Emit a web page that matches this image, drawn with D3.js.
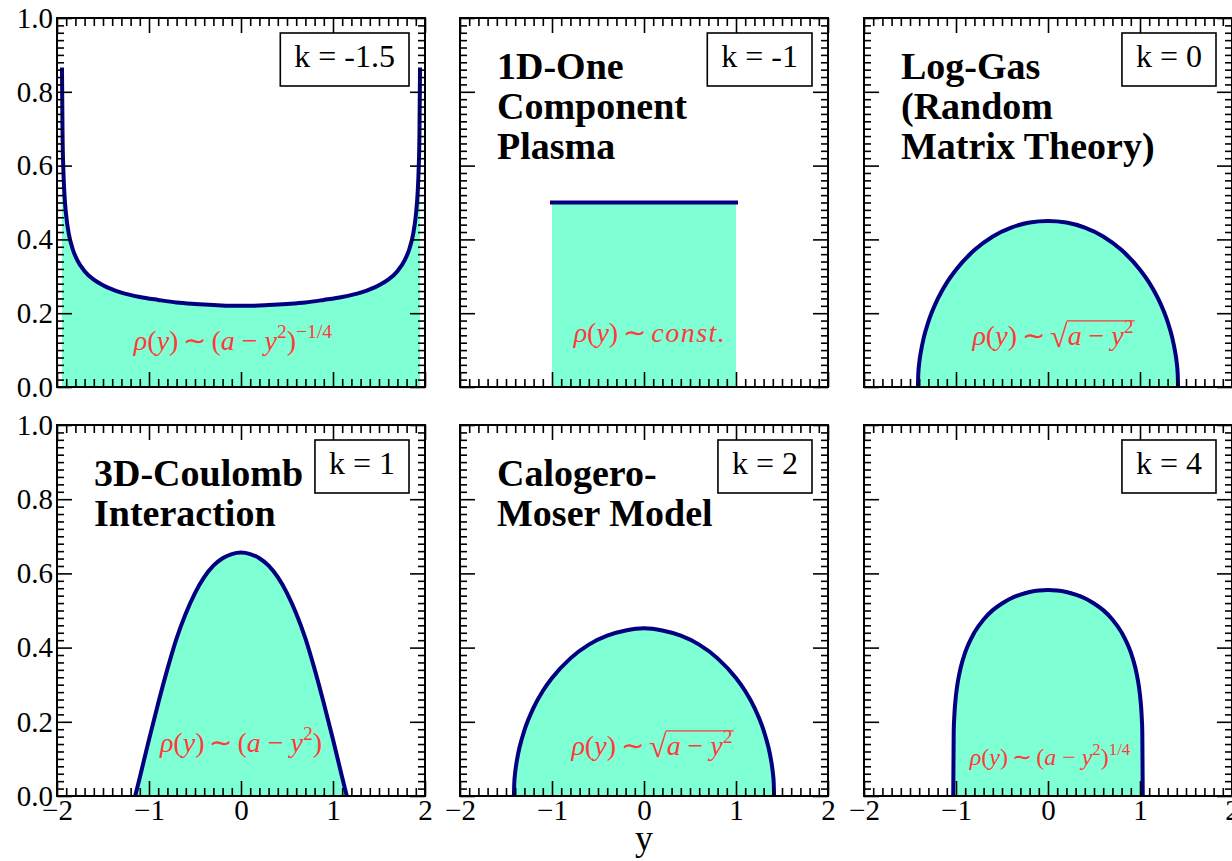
<!DOCTYPE html>
<html><head><meta charset="utf-8">
<script src="https://cdn.jsdelivr.net/npm/d3@7"></script>
<style>body{margin:0;background:#fff} svg{display:block}</style>
</head><body><svg id="c" width="1232" height="861"></svg>
<script>
// ---------------- data ----------------
const kLabels = ["k = -1.5", "k = -1", "k = 0", "k = 1", "k = 2", "k = 4"];
const titles = [
  [],
  ["1D-One", "Component", "Plasma"],
  ["Log-Gas", "(Random", "Matrix Theory)"],
  ["3D-Coulomb", "Interaction"],
  ["Calogero-", "Moser Model"],
  []
];
const xTicks = [-2, -1, 0, 1, 2];
const yTicks = [0, 0.2, 0.4, 0.6, 0.8, 1.0];
const xAxisLabel = "y";

// k = -1.5
const yKm15 = [-1.946,-1.94,-1.93,-1.92,-1.9,-1.87,-1.83,-1.78,-1.7,-1.6,-1.5,-1.3,-1.1,-0.9,-0.7,-0.5,-0.3,-0.1,0,0.1,0.3,0.5,0.7,0.9,1.1,1.3,1.5,1.6,1.7,1.78,1.83,1.87,1.9,1.92,1.93,1.94,1.946];
const rhoKm15 = [0.866,0.692,0.582,0.526,0.464,0.413,0.374,0.344,0.314,0.291,0.276,0.256,0.244,0.236,0.229,0.225,0.222,0.220,0.220,0.220,0.222,0.225,0.229,0.236,0.244,0.256,0.276,0.291,0.314,0.344,0.374,0.413,0.464,0.526,0.582,0.692,0.866];
// k = -1
const yKm1 = [-1, 1];
const rhoKm1 = [0.5, 0.5];
// k = 0
const yK0 = [-1.414,-1.41,-1.40,-1.38,-1.35,-1.3,-1.2,-1.1,-1.0,-0.8,-0.6,-0.4,-0.2,0,0.2,0.4,0.6,0.8,1.0,1.1,1.2,1.3,1.35,1.38,1.40,1.41,1.414];
const rhoK0 = [0,0.035,0.064,0.098,0.134,0.177,0.238,0.283,0.318,0.371,0.408,0.432,0.446,0.450,0.446,0.432,0.408,0.371,0.318,0.283,0.238,0.177,0.134,0.098,0.064,0.035,0];
// k = 1
const yK1 = [-1.15,-1.1,-1.0,-0.9,-0.8,-0.7,-0.6,-0.5,-0.4,-0.3,-0.2,-0.1,0,0.1,0.2,0.3,0.4,0.5,0.6,0.7,0.8,0.9,1.0,1.1,1.15];
const rhoK1 = [0,0.05,0.152,0.25,0.342,0.425,0.492,0.547,0.59,0.621,0.641,0.652,0.656,0.652,0.641,0.621,0.59,0.547,0.492,0.425,0.342,0.25,0.152,0.05,0];
// k = 2
const yK2 = [-1.414,-1.41,-1.40,-1.38,-1.35,-1.3,-1.2,-1.1,-1.0,-0.8,-0.6,-0.4,-0.2,0,0.2,0.4,0.6,0.8,1.0,1.1,1.2,1.3,1.35,1.38,1.40,1.41,1.414];
const rhoK2 = [0,0.035,0.064,0.098,0.134,0.177,0.238,0.283,0.318,0.371,0.408,0.432,0.446,0.452,0.446,0.432,0.408,0.371,0.318,0.283,0.238,0.177,0.134,0.098,0.064,0.035,0];
// k = 4
const yK4 = [-1.03,-1.025,-1.02,-1.0,-0.98,-0.95,-0.9,-0.8,-0.7,-0.6,-0.5,-0.4,-0.3,-0.2,-0.1,0,0.1,0.2,0.3,0.4,0.5,0.6,0.7,0.8,0.9,0.95,0.98,1.0,1.02,1.025,1.03];
const rhoK4 = [0,0.174,0.207,0.272,0.308,0.345,0.387,0.441,0.476,0.501,0.519,0.533,0.543,0.550,0.554,0.555,0.554,0.550,0.543,0.533,0.519,0.501,0.476,0.441,0.387,0.345,0.308,0.272,0.207,0.174,0];

// formulas (segments of text)
const fPow = (p) => [{t:"ρ",it:1},{t:"("},{t:"y",it:1},{t:")"},{t:"∼",w:0.78,gl:0.2,gr:0.2},{t:"("},{t:"a",it:1},{t:"−",w:0.78,gl:0.14,gr:0.14},{t:"y",it:1},{t:"2",sup:1},{t:")"},{t:p,sup:1}];
const fSqrt = [{t:"ρ",it:1},{t:"("},{t:"y",it:1},{t:")"},{t:"∼",w:0.78,gl:0.2,gr:0.2},{t:"√",root:1},{t:"a",it:1},{t:"−",w:0.78,gl:0.14,gr:0.14},{t:"y",it:1},{t:"2",sup:1}];
const formulas = [
  fPow("−1/4"),
  [{t:"ρ",it:1},{t:"("},{t:"y",it:1},{t:")"},{t:"∼",w:0.78,gl:0.2,gr:0.2},{t:"const.",it:1,ls:1}],
  fSqrt,
  [{t:"ρ",it:1},{t:"("},{t:"y",it:1},{t:")"},{t:"∼",w:0.78,gl:0.2,gr:0.2},{t:"("},{t:"a",it:1},{t:"−",w:0.78,gl:0.14,gr:0.14},{t:"y",it:1},{t:"2",sup:1},{t:")"}],
  fSqrt,
  fPow("1/4")
];

const series = [[yKm15,rhoKm15],[yKm1,rhoKm1],[yK0,rhoK0],[yK1,rhoK1],[yK2,rhoK2],[yK4,rhoK4]];

// ---------------- layout ----------------
const colLeft = [57, 460, 864];
const PW = 368;
const rowTop = [18, 425];
const rowBot = [387, 796];
const fDx = [-8, 6, 5, 0, 8, 2];
const fBase = [332, 324, 327, 327, 330, 340];
const fSize = [28, 28, 28, 28, 28, 24];

const FILL = "#7fffd4", LINE = "#000080", RED = "#ff3a3a";
const SERIF = "'Liberation Serif', 'Times New Roman', serif";

const svg = d3.select("#c");

function drawFormula(g, segs, cx, baseY, fs) {
  const grp = g.append("g").attr("font-family", SERIF).attr("fill", RED);
  let xPos = 0, rootEnd = null, rootTop = null;
  segs.forEach(s => {
    const size = s.sup ? fs * 0.7 : (s.root ? fs * 1.15 : fs);
    const dy = s.sup ? -fs * 0.42 : (s.root ? fs * 0.06 : 0);
    xPos += (s.gl || 0) * fs;
    const t = grp.append("text").attr("x", xPos).attr("y", dy)
      .attr("font-size", size)
      .attr("font-style", s.it ? "italic" : "normal")
      .attr("letter-spacing", s.ls ? "1.5px" : null)
      .text(s.t);
    let w = t.node().getComputedTextLength();
    if (s.w) { const adv = s.w * fs; t.attr("x", xPos + (adv - w) / 2); w = adv; }
    xPos += w + (s.gr || 0) * fs;
    if (s.root) { rootEnd = xPos; rootTop = dy - size * 0.80; }
  });
  if (rootEnd !== null) {
    grp.append("line").attr("x1", rootEnd - 1).attr("x2", xPos + 1)
      .attr("y1", rootTop).attr("y2", rootTop)
      .attr("stroke", RED).attr("stroke-width", 1.4);
  }
  grp.attr("transform", `translate(${cx - xPos / 2},${baseY})`);
}

for (let p = 0; p < 6; p++) {
  const r = Math.floor(p / 3), c = p % 3;
  const left = colLeft[c], right = left + PW, top = rowTop[r], bot = rowBot[r];
  const x = d3.scaleLinear().domain([-2, 2]).range([left, right]);
  const y = d3.scaleLinear().domain([0, 1]).range([bot, top]);
  const g = svg.append("g");
  const data = series[p][0].map((v, i) => [v, series[p][1][i]]);
  const cv = p === 1 ? d3.curveLinear : d3.curveMonotoneX;

  g.append("path").datum(data)
    .attr("d", d3.area().x(d => x(d[0])).y0(y(0)).y1(d => y(d[1])).curve(cv))
    .attr("fill", FILL);
  g.append("path").datum(data)
    .attr("d", d3.line().x(d => x(d[0])).y(d => y(d[1])).curve(cv))
    .attr("fill", "none").attr("stroke", LINE).attr("stroke-width", 4)
    .attr("stroke-linecap", p === 1 ? "square" : "butt");

  // ticks
  const xMinor = d3.range(-20, 21).filter(i => i % 10 !== 0).map(i => i / 10);
  const yMinor = d3.range(0, 51).filter(i => i % 10 !== 0).map(i => i / 50);
  const styleAxis = (sel) => {
    sel.select(".domain").remove();
    sel.selectAll("line").attr("stroke", "#000").attr("stroke-width", 1.6);
    sel.attr("font-family", SERIF).attr("font-size", 29);
    sel.selectAll("text").attr("fill", "#000");
  };
  const showX = r === 1, showY = c === 0;
  g.append("g").attr("transform", `translate(0,${bot})`)
    .call(d3.axisBottom(x).tickValues(xTicks).tickSize(-15).tickPadding(3)
      .tickFormat(showX ? d3.format("d") : () => "")).call(styleAxis);
  g.append("g").attr("transform", `translate(0,${bot})`)
    .call(d3.axisBottom(x).tickValues(xMinor).tickSize(-8).tickFormat(() => "")).call(styleAxis);
  g.append("g").attr("transform", `translate(0,${top})`)
    .call(d3.axisTop(x).tickValues(xTicks).tickSize(-15).tickFormat(() => "")).call(styleAxis);
  g.append("g").attr("transform", `translate(0,${top})`)
    .call(d3.axisTop(x).tickValues(xMinor).tickSize(-8).tickFormat(() => "")).call(styleAxis);
  g.append("g").attr("transform", `translate(${left},0)`)
    .call(d3.axisLeft(y).tickValues(yTicks).tickSize(-15).tickPadding(4)
      .tickFormat(showY ? d3.format(".1f") : () => "")).call(styleAxis);
  g.append("g").attr("transform", `translate(${left},0)`)
    .call(d3.axisLeft(y).tickValues(yMinor).tickSize(-7).tickFormat(() => "")).call(styleAxis);
  g.append("g").attr("transform", `translate(${right},0)`)
    .call(d3.axisRight(y).tickValues(yTicks).tickSize(-15).tickFormat(() => "")).call(styleAxis);
  g.append("g").attr("transform", `translate(${right},0)`)
    .call(d3.axisRight(y).tickValues(yMinor).tickSize(-7).tickFormat(() => "")).call(styleAxis);

  // frame
  g.append("rect").attr("x", left).attr("y", top).attr("width", PW).attr("height", bot - top)
    .attr("fill", "none").attr("stroke", "#000").attr("stroke-width", 2);

  // titles
  titles[p].forEach((t, i) => {
    g.append("text").attr("x", left + 37).attr("y", top + 61 + 40 * i)
      .attr("font-family", SERIF).attr("font-weight", "bold").attr("font-size", 38)
      .attr("fill", "#000").text(t);
  });

  // k box
  const kt = g.append("text").attr("font-family", SERIF).attr("font-size", 32)
    .attr("fill", "#000").attr("text-anchor", "middle").text(kLabels[p]);
  const kw = kt.node().getComputedTextLength();
  const bw = kw + 28, bx = right - 16 - bw, by = top + 15;
  g.insert("rect", () => kt.node()).attr("x", bx).attr("y", by).attr("width", bw).attr("height", 53)
    .attr("fill", "#fff").attr("stroke", "#000").attr("stroke-width", 1.6);
  kt.attr("x", bx + bw / 2).attr("y", by + 34);

  // formula
  drawFormula(g, formulas[p], x(0) + fDx[p], top + fBase[p], fSize[p]);
}

// x-axis label
svg.append("text").attr("x", colLeft[1] + PW / 2).attr("y", 850)
  .attr("text-anchor", "middle").attr("font-family", SERIF).attr("font-size", 36)
  .attr("fill", "#000").text(xAxisLabel);
</script>
</body></html>
